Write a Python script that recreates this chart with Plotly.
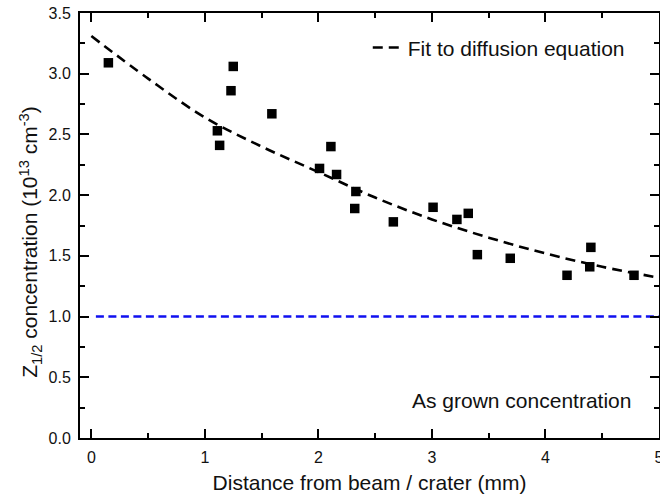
import plotly.graph_objects as go

# Measured data (Z1/2 concentration vs distance)
dist_mm = [0.15, 1.11, 1.13, 1.23, 1.25, 1.59, 2.01, 2.11, 2.16, 2.33, 2.32,
           2.66, 3.01, 3.22, 3.32, 3.40, 3.69, 4.19, 4.39, 4.40, 4.78]
conc = [3.09, 2.53, 2.41, 2.86, 3.06, 2.67, 2.22, 2.40, 2.17, 2.03, 1.89,
        1.78, 1.90, 1.80, 1.85, 1.51, 1.48, 1.34, 1.41, 1.57, 1.34]

# Fit curve
fit_x = [0, 0.5, 1.0, 1.5, 2.0, 2.5, 3.0, 3.5, 4.0, 4.5, 5.0]
fit_y = [3.31, 2.96, 2.64, 2.40, 2.19, 1.98, 1.80, 1.65, 1.52, 1.41, 1.32]

# As-grown level
grown_x = [0.04, 5.0]
grown_y = [1.0, 1.0]

FONT = "Liberation Sans, Arial, sans-serif"
TXT = 21

fig = go.Figure()
fig.add_trace(go.Scatter(x=fit_x, y=fit_y, mode="lines", line_shape="spline",
                         line=dict(color="black", width=2.6, dash="10px,6px"),
                         name="Fit to diffusion equation", showlegend=True))
fig.add_trace(go.Scatter(x=grown_x, y=grown_y, mode="lines",
                         line=dict(color="#1010F0", width=2.6, dash="8px,4.5px"),
                         showlegend=False))
fig.add_trace(go.Scatter(x=dist_mm, y=conc, mode="markers",
                         marker=dict(symbol="square", size=9.5, color="black"),
                         showlegend=False))

fig.add_annotation(x=3.79, y=0.31, xref="x", yref="y", text="As grown concentration",
                   showarrow=False, font=dict(size=TXT, color="#111111", family=FONT))

fig.add_annotation(x=-0.086, y=0.462, xref="paper", yref="paper",
                   text="Z<sub>1/2</sub> concentration (10<sup>13</sup> cm<sup>-3</sup>)",
                   textangle=-90, showarrow=False, xanchor="center", yanchor="middle",
                   font=dict(size=TXT, color="#111111", family=FONT))

axis_common = dict(showline=True, linecolor="black", linewidth=2, mirror="ticks",
                   ticks="inside", ticklen=9, tickwidth=2, tickcolor="black",
                   showgrid=False, zeroline=False, ticklabeloverflow="allow",
                   automargin=False,
                   tickfont=dict(size=16, color="#111111", family=FONT))

fig.update_xaxes(range=[-0.1, 5.0001], dtick=1, tick0=0,
                 minor=dict(ticks="inside", ticklen=5, tickwidth=2, tickcolor="black", dtick=0.5),
                 title=dict(text="Distance from beam / crater (mm)",
                            font=dict(size=TXT, color="#111111", family=FONT), standoff=10),
                 ticklabelstandoff=4,
                 **axis_common)
fig.update_yaxes(range=[0, 3.5], dtick=0.5, tick0=0, tickformat=".1f",
                 minor=dict(ticks="inside", ticklen=5, tickwidth=2, tickcolor="black", dtick=0.25),
                 ticklabelstandoff=4,
                 **axis_common)

fig.update_layout(
    width=660, height=502,
    margin=dict(l=80, r=1, t=13, b=63.5),
    plot_bgcolor="white", paper_bgcolor="white",
    font=dict(family=FONT, color="#111111"),
    legend=dict(x=0.497, y=0.918, xanchor="left", yanchor="middle",
                bgcolor="rgba(0,0,0,0)", font=dict(size=TXT, family=FONT, color="#111111")),
)

fig.write_html("out.html")
